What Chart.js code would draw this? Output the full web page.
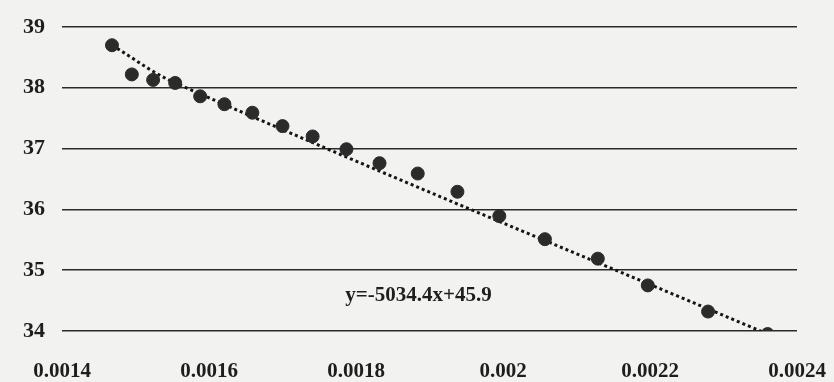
<!DOCTYPE html>
<html>
<head>
<meta charset="utf-8">
<script src="https://cdn.jsdelivr.net/npm/chart.js@4/dist/chart.umd.min.js"></script>
<style>
  html, body { margin: 0; padding: 0; background: #f2f2f0; }
  #wrap { width: 834px; height: 382px; position: relative; }
</style>
</head>
<body>
<div id="wrap"><canvas id="c" width="834" height="382"></canvas></div>
<script>
// Data
const xValues = [0.001468, 0.001495, 0.001524, 0.001554, 0.001588, 0.001621, 0.001659, 0.001700,
                 0.001741, 0.001787, 0.001832, 0.001884, 0.001938, 0.001995, 0.002057, 0.002129,
                 0.002197, 0.002279, 0.002360];
const yValues = [38.70, 38.22, 38.13, 38.08, 37.86, 37.73, 37.59, 37.37,
                 37.20, 36.99, 36.76, 36.59, 36.29, 35.89, 35.51, 35.19,
                 34.75, 34.32, 33.95];
const trendX = [0.001468, 0.001554, 0.002360];
const trendY = [38.70, 38.08, 33.95];
const xTicks = [0.0014, 0.0016, 0.0018, 0.002, 0.0022, 0.0024];
const xTickLabels = ['0.0014', '0.0016', '0.0018', '0.002', '0.0022', '0.0024'];
const yTicks = [34, 35, 36, 37, 38, 39];
const equationText = 'y=-5034.4x+45.9';
const equationPos = { x: 0.001885, y: 34.58 };

const points = xValues.map((x, i) => ({ x: x, y: yValues[i] }));
const trend = trendX.map((x, i) => ({ x: x, y: trendY[i] }));

const serif = "'Liberation Serif', 'DejaVu Serif', serif";

const equationPlugin = {
  id: 'equation',
  afterDatasetsDraw(chart) {
    const { ctx, scales } = chart;
    const px = scales.x.getPixelForValue(equationPos.x);
    const py = scales.y.getPixelForValue(equationPos.y);
    ctx.save();
    ctx.font = "bold 21px " + serif;
    ctx.fillStyle = '#1e1e1e';
    ctx.textAlign = 'center';
    ctx.textBaseline = 'middle';
    ctx.fillText(equationText, px, py);
    ctx.restore();
  }
};

new Chart(document.getElementById('c'), {
  type: 'scatter',
  data: {
    datasets: [
      {
        type: 'line',
        label: 'trend',
        data: trend,
        borderColor: '#151515',
        borderWidth: 3,
        borderDash: [3, 3],
        pointRadius: 0,
        fill: false,
        tension: 0.35,
        order: 2
      },
      {
        label: 'data',
        data: points,
        backgroundColor: '#2b2b2b',
        borderColor: '#2b2b2b',
        pointRadius: 6.5,
        pointHoverRadius: 6.5,
        order: 1
      }
    ]
  },
  options: {
    responsive: false,
    animation: false,
    layout: { padding: { top: 27, right: 37, left: 0, bottom: 0 } },
    plugins: {
      legend: { display: false },
      tooltip: { enabled: false }
    },
    scales: {
      x: {
        type: 'linear',
        min: 0.0014,
        max: 0.0024,
        afterBuildTicks(axis) { axis.ticks = xTicks.map(v => ({ value: v })); },
        afterFit(axis) { axis.height = 51; axis.paddingLeft = 0; axis.paddingRight = 0; },
        grid: { display: false, drawTicks: false },
        border: { display: false },
        ticks: {
          padding: 28,
          maxRotation: 0,
          autoSkip: false,
          color: '#1e1e1e',
          font: { family: serif, size: 21, weight: 'bold' },
          callback: function (v) {
            const i = xTicks.findIndex(t => Math.abs(t - v) < 1e-9);
            return i >= 0 ? xTickLabels[i] : '';
          }
        }
      },
      y: {
        type: 'linear',
        min: 34,
        max: 39,
        afterBuildTicks(axis) { axis.ticks = yTicks.map(v => ({ value: v })); },
        afterFit(axis) { axis.width = 62; axis.paddingTop = 0; axis.paddingBottom = 0; },
        grid: { color: '#2a2a2a', lineWidth: 1.6, drawTicks: false },
        border: { display: false },
        ticks: {
          padding: 17,
          color: '#1e1e1e',
          font: { family: serif, size: 22, weight: 'bold' }
        }
      }
    }
  },
  plugins: [equationPlugin]
});
</script>
</body>
</html>
